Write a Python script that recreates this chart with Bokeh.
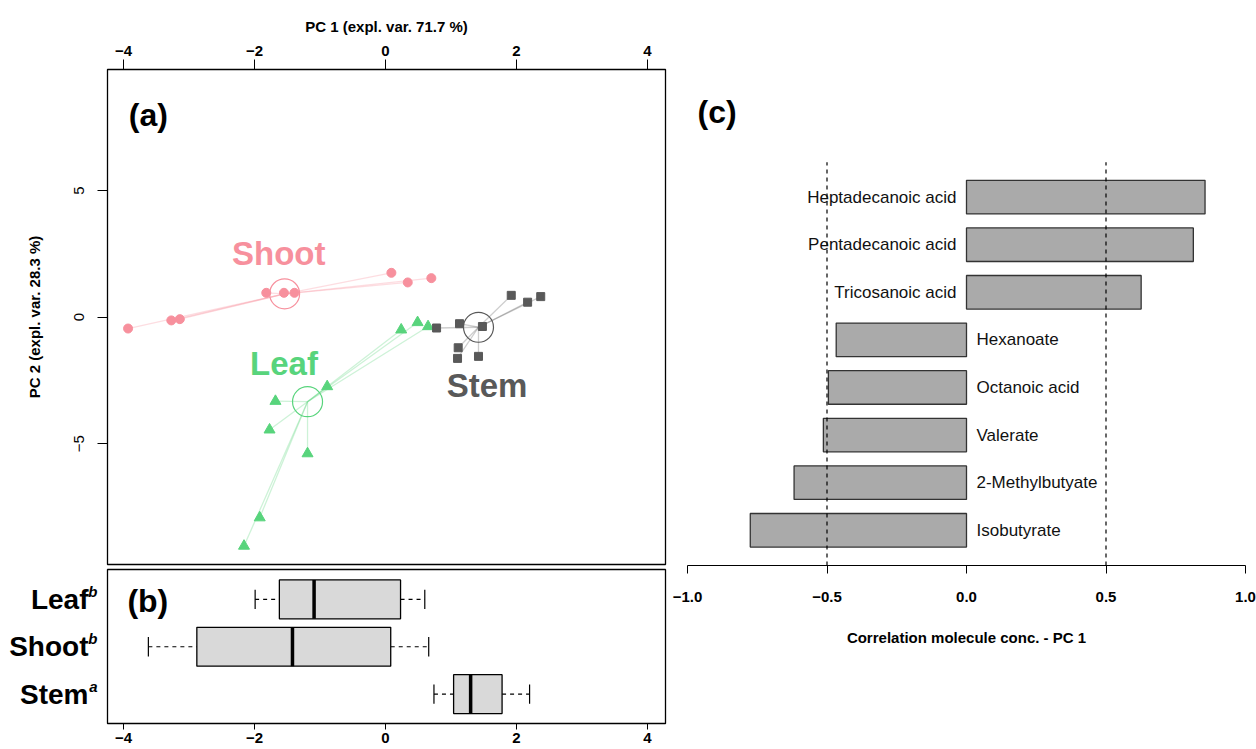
from bokeh.plotting import figure
from bokeh.models import Range1d, FixedTicker, Label, LinearAxis
from bokeh.layouts import row, column
from bokeh.embed import file_html
from bokeh.resources import INLINE
from bokeh.core.properties import value

# ---------------- data ----------------
groups_a = ["Shoot", "Leaf", "Stem"]
shoot_pc1 = [-3.93, -3.27, -3.14, -1.82, -1.55, -1.39, 0.09, 0.34, 0.70]
shoot_pc2 = [-0.45, -0.13, -0.08, 0.96, 0.96, 0.96, 1.75, 1.37, 1.54]
leaf_pc1 = [0.24, 0.49, 0.65, -0.89, -1.68, -1.77, -1.19, -1.92, -2.16]
leaf_pc2 = [-0.50, -0.21, -0.37, -2.74, -3.32, -4.45, -5.39, -7.92, -9.04]
stem_pc1 = [0.78, 1.13, 1.48, 1.92, 2.17, 2.37, 1.11, 1.10, 1.42]
stem_pc2 = [-0.43, -0.26, -0.37, 0.86, 0.59, 0.81, -1.21, -1.63, -1.55]
centroid_pc1 = [-1.54, -1.19, 1.42]   # Shoot, Leaf, Stem
centroid_pc2 = [0.92, -3.34, -0.40]

box_groups = ["Leaf", "Shoot", "Stem"]
box_letters = ["b", "b", "a"]
box_wmin = [-1.99, -3.62, 0.74]
box_q1 = [-1.62, -2.88, 1.04]
box_med = [-1.09, -1.42, 1.30]
box_q3 = [0.23, 0.08, 1.78]
box_wmax = [0.60, 0.66, 2.20]

molecules = ["Heptadecanoic acid", "Pentadecanoic acid", "Tricosanoic acid",
             "Hexanoate", "Octanoic acid", "Valerate", "2-Methylbutyate", "Isobutyrate"]
correlations = [0.855, 0.813, 0.626, -0.467, -0.495, -0.513, -0.618, -0.775]

pc1_ticks = [-4, -2, 0, 2, 4]
pc2_ticks = [-5, 0, 5]
corr_ticks = [-1.0, -0.5, 0.0, 0.5, 1.0]
corr_thresholds = [-0.5, 0.5]

pc1_title = "PC 1 (expl. var. 71.7 %)"
pc2_title = "PC 2 (expl. var. 28.3 %)"
corr_title = "Correlation molecule conc. - PC 1"

# ---------------- style ----------------
FONT = "Liberation Sans"
colors = {"Shoot": "#F7909D", "Leaf": "#58D47C", "Stem": "#595959"}
markers = {"Shoot": ("circle", 9), "Leaf": ("triangle", 11), "Stem": ("square", 8)}
label_pos = {"Shoot": (-1.63, 2.52), "Leaf": (-1.55, -1.83), "Stem": (1.55, -2.72)}


def minus(s):
    return s.replace("-", "\u2212")


def style_axis(ax, size="15px", bold=True):
    ax.major_label_text_font = FONT
    ax.major_label_text_font_size = size
    ax.major_label_text_font_style = "bold" if bold else "normal"
    ax.major_label_text_color = "black"
    ax.axis_label_text_font = FONT
    ax.axis_label_text_font_size = "15px"
    ax.axis_label_text_font_style = "bold"
    ax.axis_label_text_color = "black"
    ax.minor_tick_out = 0
    ax.minor_tick_in = 0
    ax.major_tick_in = 0
    ax.axis_line_color = "black"
    ax.major_tick_line_color = "black"


def panel_tag(text, x, y):
    return Label(x=x, y=y, text=text, text_font=FONT, text_font_style="bold",
                 text_font_size="32px", text_color="black",
                 text_baseline="middle", text_align="left")


x_range = Range1d(-4.244, 4.275)

# ---------------- panel (a) ----------------
pa = figure(width=672, height=566, x_range=x_range, y_range=Range1d(-9.77, 9.78),
            x_axis_location="above", output_backend="svg", toolbar_location=None,
            min_border_left=107, min_border_right=7, min_border_top=69, min_border_bottom=2)
pa.grid.visible = False
pa.outline_line_color = "black"
pa.outline_line_width = 1.3
pa.outline_line_alpha = 1

ax = pa.xaxis[0]
style_axis(ax)
ax.ticker = FixedTicker(ticks=pc1_ticks)
ax.major_label_overrides = {t: minus(str(t)) for t in pc1_ticks}
ax.axis_label = pc1_title
ax.major_tick_out = 10
ax.major_label_standoff = 4
ax.axis_label_standoff = 8

ay = pa.yaxis[0]
style_axis(ay, bold=False)
ay.ticker = FixedTicker(ticks=pc2_ticks)
ay.major_label_overrides = {t: minus(str(t)) for t in pc2_ticks}
ay.major_label_orientation = "vertical"
ay.axis_label = pc2_title
ay.major_tick_out = 10
ay.major_label_standoff = 13
ay.axis_label_standoff = 29

series = {"Shoot": (shoot_pc1, shoot_pc2), "Leaf": (leaf_pc1, leaf_pc2), "Stem": (stem_pc1, stem_pc2)}
for i, g in enumerate(groups_a):
    xs_pts, ys_pts = series[g]
    cx, cy = centroid_pc1[i], centroid_pc2[i]
    pa.multi_line(xs=[[cx, x] for x in xs_pts], ys=[[cy, y] for y in ys_pts],
                  line_color=colors[g], line_alpha=0.3, line_width=1.3)
for i, g in enumerate(groups_a):
    xs_pts, ys_pts = series[g]
    m, s = markers[g]
    pa.scatter(xs_pts, ys_pts, marker=m, size=s, fill_color=colors[g], line_color=colors[g])
    pa.scatter([centroid_pc1[i]], [centroid_pc2[i]], marker="circle", size=30,
               fill_alpha=0, line_color=colors[g], line_width=1.2)
    lx, ly = label_pos[g]
    pa.text([lx], [ly], text=[g], text_font=value(FONT), text_font_style="bold",
            text_font_size="33px", text_color=colors[g], text_align="center",
            text_baseline="middle")

pa.add_layout(panel_tag("(a)", -3.92, 8.0))

# ---------------- panel (b) ----------------
n_b = len(box_groups)
ypos_b = [n_b - i for i in range(n_b)]
pb = figure(width=672, height=183, x_range=x_range, y_range=Range1d(0.38, 3.63),
            output_backend="svg", toolbar_location=None,
            min_border_left=107, min_border_right=7, min_border_top=3, min_border_bottom=26)
pb.grid.visible = False
pb.outline_line_color = "black"
pb.outline_line_width = 1.3
pb.outline_line_alpha = 1

bx = pb.xaxis[0]
style_axis(bx)
bx.ticker = FixedTicker(ticks=pc1_ticks)
bx.major_label_overrides = {t: minus(str(t)) for t in pc1_ticks}
bx.major_tick_out = 6
bx.major_label_standoff = 3

# inner left axis: superscript letters (raised a little above each row)
SUP_RAISE = 0.17
sup_ticks = [y + SUP_RAISE for y in ypos_b]
sup_ax = pb.yaxis[0]
style_axis(sup_ax)
sup_ax.major_label_text_font_style = "bold italic"
sup_ax.ticker = FixedTicker(ticks=sup_ticks)
sup_ax.major_label_overrides = {t: l for t, l in zip(sup_ticks, box_letters)}
sup_ax.major_tick_out = 0
sup_ax.major_label_standoff = 10
sup_ax.axis_line_color = None

# outer left axis: group names
name_ax = LinearAxis()
style_axis(name_ax, size="28px")
name_ax.ticker = FixedTicker(ticks=ypos_b)
name_ax.major_label_overrides = {y: g for y, g in zip(ypos_b, box_groups)}
name_ax.major_tick_out = 0
name_ax.major_label_standoff = -3
name_ax.axis_line_color = None
pb.add_layout(name_ax, "left")

BH = 0.82
y_lo = [y - BH / 2 for y in ypos_b]
y_hi = [y + BH / 2 for y in ypos_b]
st_lo = [y - BH / 4 for y in ypos_b]
st_hi = [y + BH / 4 for y in ypos_b]
pb.segment(x0=box_wmin, y0=ypos_b, x1=box_q1, y1=ypos_b, line_color="black",
           line_width=1.2, line_dash="4 4")
pb.segment(x0=box_q3, y0=ypos_b, x1=box_wmax, y1=ypos_b, line_color="black",
           line_width=1.2, line_dash="4 4")
pb.segment(x0=box_wmin, y0=st_lo, x1=box_wmin, y1=st_hi, line_color="black", line_width=1.2)
pb.segment(x0=box_wmax, y0=st_lo, x1=box_wmax, y1=st_hi, line_color="black", line_width=1.2)
pb.hbar(y=ypos_b, left=box_q1, right=box_q3, height=BH, fill_color="#D9D9D9",
        line_color="black", line_width=1.3)
pb.segment(x0=box_med, y0=y_lo, x1=box_med, y1=y_hi, line_color="black", line_width=3.5)

pb.add_layout(panel_tag("(b)", -3.94, 2.97))

# ---------------- panel (c) ----------------
n_c = len(molecules)
ypos_c = [n_c - i for i in range(n_c)]
Y_BOTTOM, Y_TOP_BARS, Y_TOP = 0.26, 8.73, 10.45
pc = figure(width=584, height=749, x_range=Range1d(-1.0, 1.0), y_range=Range1d(Y_BOTTOM, Y_TOP),
            output_backend="svg", toolbar_location=None,
            min_border_left=15, min_border_right=11, min_border_top=80, min_border_bottom=184)
pc.grid.visible = False
pc.outline_line_color = None
pc.yaxis.visible = False

cx_ax = pc.xaxis[0]
style_axis(cx_ax)
cx_ax.ticker = FixedTicker(ticks=corr_ticks)
cx_ax.major_label_overrides = {t: minus(f"{t:.1f}") for t in corr_ticks}
cx_ax.axis_label = corr_title
cx_ax.major_tick_out = 8
cx_ax.major_label_standoff = 18
cx_ax.axis_label_standoff = 24

pc.hbar(y=ypos_c, left=0, right=correlations, height=0.705, fill_color="#AAAAAA",
        line_color="#333333", line_width=1.3)
pc.segment(x0=corr_thresholds, y0=[Y_BOTTOM] * len(corr_thresholds),
           x1=corr_thresholds, y1=[Y_TOP_BARS] * len(corr_thresholds),
           line_color="black", line_width=1.2, line_dash="4 4")

pos_y = [y for y, v in zip(ypos_c, correlations) if v >= 0]
pos_t = [m for m, v in zip(molecules, correlations) if v >= 0]
neg_y = [y for y, v in zip(ypos_c, correlations) if v < 0]
neg_t = [m for m, v in zip(molecules, correlations) if v < 0]
pc.text([0] * len(pos_y), pos_y, text=pos_t, x_offset=-10, text_align="right",
        text_baseline="middle", text_font=value(FONT), text_font_size="17px", text_color="#111111")
pc.text([0] * len(neg_y), neg_y, text=neg_t, x_offset=10, text_align="left",
        text_baseline="middle", text_font=value(FONT), text_font_size="17px", text_color="#111111")

pc.add_layout(panel_tag("(c)", -0.964, 9.78))

layout = row(column(pa, pb), pc)
open("out.html", "w").write(file_html(layout, INLINE))
